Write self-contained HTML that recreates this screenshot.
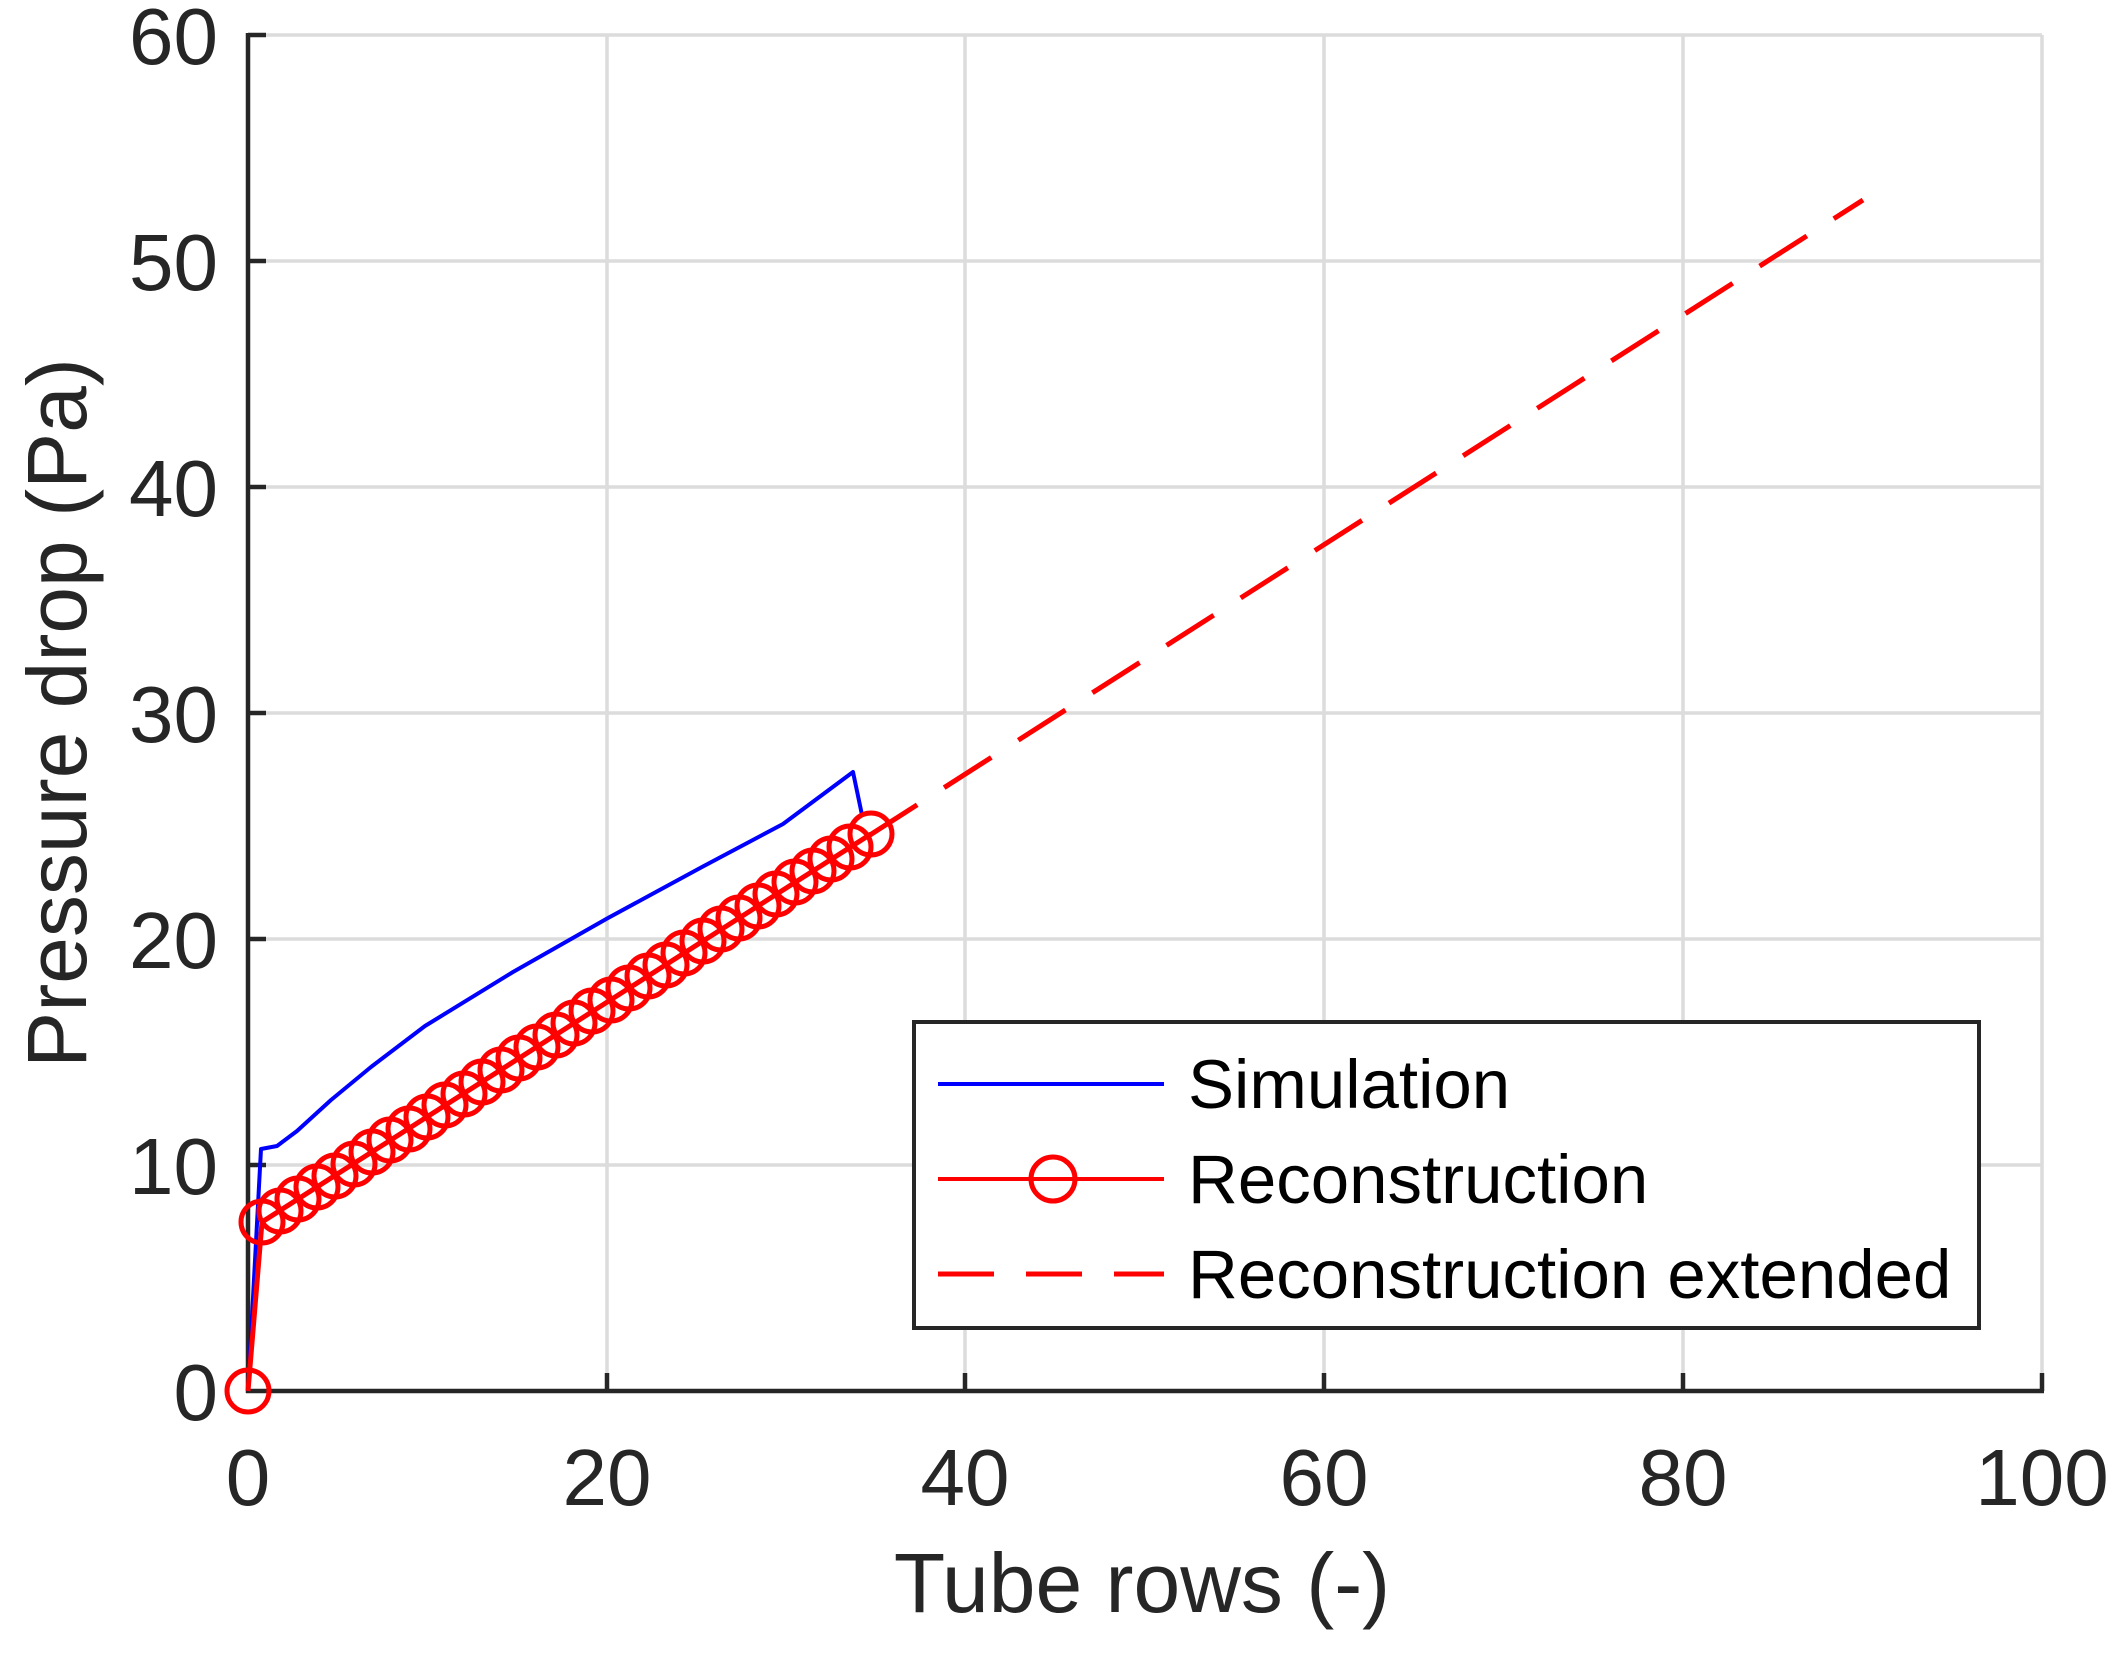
<!DOCTYPE html>
<html><head><meta charset="utf-8"><style>html,body{margin:0;padding:0;background:#fff}</style></head>
<body>
<svg width="2117" height="1650" viewBox="0 0 2117 1650" xmlns="http://www.w3.org/2000/svg" font-family="Liberation Sans, Arial, sans-serif">
<g stroke="#dcdcdc" stroke-width="3.5">
<line x1="607" y1="35" x2="607" y2="1391"/><line x1="965" y1="35" x2="965" y2="1391"/><line x1="1324" y1="35" x2="1324" y2="1391"/><line x1="1683" y1="35" x2="1683" y2="1391"/><line x1="2042" y1="35" x2="2042" y2="1391"/>
<line x1="248" y1="35" x2="2042" y2="35"/><line x1="248" y1="261" x2="2042" y2="261"/><line x1="248" y1="487" x2="2042" y2="487"/><line x1="248" y1="713" x2="2042" y2="713"/><line x1="248" y1="939" x2="2042" y2="939"/><line x1="248" y1="1165" x2="2042" y2="1165"/>
</g>
<g stroke="#262626" stroke-width="4.5">
<line x1="246" y1="1391" x2="2044" y2="1391"/><line x1="248" y1="33" x2="248" y2="1393"/>
<line x1="607" y1="1391" x2="607" y2="1373"/><line x1="965" y1="1391" x2="965" y2="1373"/><line x1="1324" y1="1391" x2="1324" y2="1373"/><line x1="1683" y1="1391" x2="1683" y2="1373"/><line x1="2042" y1="1391" x2="2042" y2="1373"/>
<line x1="248" y1="35" x2="266" y2="35"/><line x1="248" y1="261" x2="266" y2="261"/><line x1="248" y1="487" x2="266" y2="487"/><line x1="248" y1="713" x2="266" y2="713"/><line x1="248" y1="939" x2="266" y2="939"/><line x1="248" y1="1165" x2="266" y2="1165"/>
</g>
<g fill="#262626" font-size="80" text-anchor="middle">
<text x="248" y="1505">0</text><text x="607" y="1505">20</text><text x="965" y="1505">40</text><text x="1324" y="1505">60</text><text x="1683" y="1505">80</text><text x="2042" y="1505">100</text>
</g>
<g fill="#262626" font-size="80" text-anchor="end">
<text x="218" y="1420">0</text><text x="218" y="1194">10</text><text x="218" y="968">20</text><text x="218" y="742">30</text><text x="218" y="516">40</text><text x="218" y="290">50</text><text x="218" y="64">60</text>
</g>
<text x="1142" y="1612" font-size="84" fill="#262626" text-anchor="middle">Tube rows (-)</text>
<text transform="translate(86,713) rotate(-90)" font-size="84" fill="#262626" text-anchor="middle">Pressure drop (Pa)</text>
<polyline fill="none" stroke="#0000ff" stroke-width="4" stroke-linejoin="round" points="248,1391 261,1149 277,1146 297,1131 331,1100 371,1067 425,1026 513,972 608,918 702,867 783,824 853,772 862,815"/>
<polyline fill="none" stroke="#ff0000" stroke-width="5" stroke-dasharray="56,32" points="870,835 1863,200"/>
<g fill="none" stroke="#ff0000" stroke-width="5">
<polyline points="248,1391 262,1222 871,834"/>
<circle cx="248" cy="1391" r="21"/>
<circle cx="262" cy="1222" r="21"/><circle cx="280" cy="1211" r="21"/><circle cx="298" cy="1199" r="21"/><circle cx="317" cy="1187" r="21"/><circle cx="335" cy="1176" r="21"/><circle cx="354" cy="1164" r="21"/><circle cx="372" cy="1152" r="21"/><circle cx="390" cy="1140" r="21"/><circle cx="409" cy="1129" r="21"/><circle cx="427" cy="1117" r="21"/><circle cx="445" cy="1105" r="21"/><circle cx="464" cy="1094" r="21"/><circle cx="482" cy="1082" r="21"/><circle cx="501" cy="1070" r="21"/><circle cx="519" cy="1058" r="21"/><circle cx="537" cy="1047" r="21"/><circle cx="556" cy="1035" r="21"/><circle cx="574" cy="1023" r="21"/><circle cx="592" cy="1011" r="21"/><circle cx="611" cy="1000" r="21"/><circle cx="629" cy="988" r="21"/><circle cx="648" cy="976" r="21"/><circle cx="666" cy="965" r="21"/><circle cx="684" cy="953" r="21"/><circle cx="703" cy="941" r="21"/><circle cx="721" cy="929" r="21"/><circle cx="739" cy="918" r="21"/><circle cx="758" cy="906" r="21"/><circle cx="776" cy="894" r="21"/><circle cx="795" cy="882" r="21"/><circle cx="813" cy="871" r="21"/><circle cx="831" cy="859" r="21"/><circle cx="850" cy="847" r="21"/><circle cx="871" cy="834" r="21"/>
</g>
<rect x="914" y="1022" width="1065" height="306" fill="#fff" stroke="#262626" stroke-width="4"/>
<line x1="938" y1="1084" x2="1164" y2="1084" stroke="#0000ff" stroke-width="4"/>
<line x1="938" y1="1179" x2="1164" y2="1179" stroke="#ff0000" stroke-width="4"/>
<circle cx="1053" cy="1179" r="22" fill="none" stroke="#ff0000" stroke-width="5"/>
<line x1="938" y1="1274" x2="1164" y2="1274" stroke="#ff0000" stroke-width="5" stroke-dasharray="56,32"/>
<g font-size="69" fill="#000">
<text x="1188" y="1108">Simulation</text>
<text x="1188" y="1203">Reconstruction</text>
<text x="1188" y="1298">Reconstruction extended</text>
</g>
</svg>
</body></html>
